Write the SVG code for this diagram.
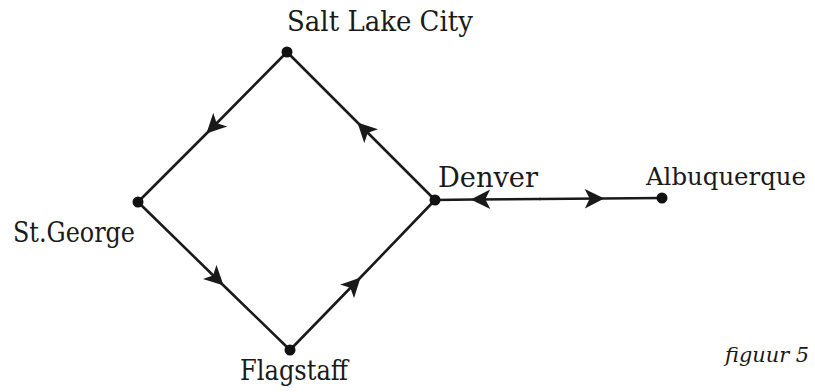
<svg xmlns="http://www.w3.org/2000/svg" width="815" height="392" viewBox="0 0 815 392">
<style>
.edge{fill:none;stroke:#1a1a1a;stroke-width:2.6;stroke-linecap:round}
.dot{fill:#111}
text{fill:#1a1a1a}
</style>
<defs>
<marker id="arr" markerUnits="userSpaceOnUse" markerWidth="20" markerHeight="20" viewBox="-14 -8 16 16" refX="0" refY="0" orient="auto">
<path d="M-12,-6 L0,0 L-12,6 L-9,0 Z" fill="#1a1a1a" stroke="#1a1a1a" stroke-width="1.6" stroke-linejoin="miter"/>
</marker>
</defs>
<rect width="815" height="392" fill="#fff"/>
<g id="connectors">
<path class="edge" d="M287,52 L208,132 L138,202" marker-mid="url(#arr)"/>
<path class="edge" d="M138,202 L222,284 L290,350" marker-mid="url(#arr)"/>
<path class="edge" d="M290,350 L359,279 L435,200" marker-mid="url(#arr)"/>
<path class="edge" d="M435,200 L359,124 L287,52" marker-mid="url(#arr)"/>
<path class="edge" d="M540,199 L473,199.5 L435,200" marker-mid="url(#arr)"/>
<path class="edge" d="M540,199 L602,198.5 L662,198" marker-mid="url(#arr)"/>
</g>
<g id="nodes" font-family="'DejaVu Serif', serif" font-size="28">
<g id="salt-lake-city">
<circle class="dot" cx="287" cy="52" r="5.5"/>
<text x="287" y="31" textLength="186" lengthAdjust="spacingAndGlyphs">Salt Lake City</text>
</g>
<g id="st-george">
<circle class="dot" cx="138" cy="202" r="5.5"/>
<text x="13" y="242" textLength="122" lengthAdjust="spacingAndGlyphs">St.George</text>
</g>
<g id="flagstaff">
<circle class="dot" cx="290" cy="350" r="5.5"/>
<text x="240" y="380" textLength="108" lengthAdjust="spacingAndGlyphs">Flagstaff</text>
</g>
<g id="denver">
<circle class="dot" cx="435" cy="200" r="5.5"/>
<text x="438" y="187" textLength="100" lengthAdjust="spacingAndGlyphs">Denver</text>
</g>
<g id="albuquerque">
<circle class="dot" cx="662" cy="198" r="5.5"/>
<text x="646" y="185" font-size="24" textLength="160" lengthAdjust="spacingAndGlyphs">Albuquerque</text>
</g>
</g>
<text x="725" y="362" font-family="'DejaVu Serif', serif" font-size="21" font-style="italic" textLength="84" lengthAdjust="spacingAndGlyphs">figuur 5</text>
</svg>
